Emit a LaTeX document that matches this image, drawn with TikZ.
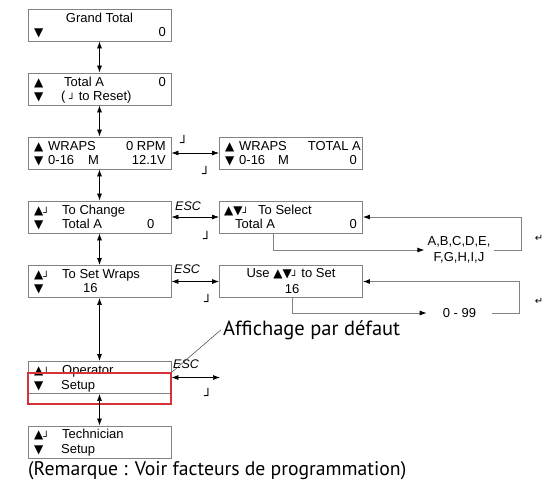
\documentclass[tikz,border=0pt]{standalone}
\usepackage{fontspec}
\setmainfont{Liberation Sans}
\newfontfamily\symf{DejaVu Sans}
\newfontfamily\myr{PT Sans}
\usetikzlibrary{arrows.meta}
\definecolor{redbox}{RGB}{215,50,55}
\definecolor{lcdgray}{RGB}{130,130,130}
\newcommand\tup{{\symf\fontsize{12}{12}\selectfont ▲}}
\newcommand\tdn{{\symf\fontsize{12}{12}\selectfont ▼}}
\newcommand\entr{{\symf\fontsize{10}{12}\selectfont\raisebox{-2.5pt}{┘}}}
\newcommand\bigent{{\symf\fontsize{13}{12}\selectfont ┘}}
\tikzset{
  lcd/.style={draw=lcdgray, line width=0.9pt, minimum width=143pt, minimum height=32pt, inner sep=0pt},
  t/.style={inner sep=0pt, anchor=base west, font=\fontsize{13}{15}\selectfont},
  te/.style={t, anchor=base east},
  tc/.style={t, anchor=base},
  esc/.style={t, font=\itshape\fontsize{12.5}{14}\selectfont},
  dbl/.style={{Latex[length=7pt,width=5pt]}-{Latex[length=7pt,width=5pt]}, line width=0.7pt},
  arr/.style={-{Latex[length=7pt,width=5pt,black]}, line width=0.8pt, draw=lcdgray},
  entmark/.style={inner sep=0pt, anchor=base}
}
\begin{document}
\begin{tikzpicture}[x=1pt,y=-1pt]
\useasboundingbox (0,0) rectangle (553,480);
% boxes
\node[lcd] (gt) at (99.5,25) {};
\node[lcd] (ta) at (99.5,89) {};
\node[lcd] (wr) at (99.5,153) {};
\node[lcd] (tc) at (99.5,217) {};
\node[lcd] (sw) at (99.5,281.5) {};
\node[lcd] (op) at (99.5,377.5) {};
\node[lcd] (te) at (99.5,442) {};
\node[lcd] (wt) at (291,153) {};
\node[lcd] (ts) at (291,217) {};
\node[lcd] (us) at (291,281.5) {};
% Grand total
\node[tc] (gt1) at (99.5,22) {Grand Total};
\node[t] (gt2) at (34,36) {\tdn};
\node[te] (gt3) at (166,36) {0};
% Total A
\node[t] (ta1) at (34,86) {\tup};
\node[t] (ta2) at (64,86) {Total A};
\node[te] (ta3) at (166,86) {0};
\node[t] (ta4) at (34,100) {\tdn};
\node[t] (ta5) at (61,100) {( \entr\ to Reset)};
% WRAPS
\node[t] (wr1) at (34,150) {\tup};
\node[t] (wr2) at (48,150) {WRAPS};
\node[te] (wr3) at (166,150) {0 RPM};
\node[t] (wr4) at (34,164) {\tdn};
\node[t] (wr5) at (48,164) {0-16};
\node[t] (wr6) at (88,164) {M};
\node[te] (wr7) at (166,164) {12.1V};
% WRAPS TOTAL A
\node[t] (wt1) at (225,150) {\tup};
\node[t] (wt2) at (239,150) {WRAPS};
\node[te] (wt3) at (361,150) {TOTAL A};
\node[t] (wt4) at (225,164) {\tdn};
\node[t] (wt5) at (239,164) {0-16};
\node[t] (wt6) at (278,164) {M};
\node[te] (wt7) at (357,164) {0};
% To Change
\node[t] (tc1) at (34,214) {\tup\entr};
\node[t] (tc2) at (62,214) {To Change};
\node[t] (tc3) at (34,228) {\tdn};
\node[t] (tc4) at (62,228) {Total A};
\node[t] (tc5) at (147,228) {0};
% To Select
\node[t] (ts1) at (224,214) {\tup\tdn\entr};
\node[t] (ts2) at (258,214) {To Select};
\node[t] (ts3) at (235,228) {Total A};
\node[te] (ts4) at (357,228) {0};
% To Set Wraps
\node[t] (sw1) at (34,278) {\tup\entr};
\node[t] (sw2) at (62,278) {To Set Wraps};
\node[t] (sw3) at (34,292) {\tdn};
\node[t] (sw4) at (83,292) {16};
% Use to set
\node[tc] (us1) at (291,277) {Use \tup\tdn\entr\ to Set};
\node[tc] (us2) at (292,293) {16};
% Operator
\node[t] (op1) at (34,374) {\tup\entr};
\node[t] (op2) at (62,374) {Operator};
\node[t] (op3) at (34,389) {\tdn};
\node[t] (op4) at (61,389) {Setup};
% Technician
\node[t] (te1) at (34,438) {\tup\entr};
\node[t] (te2) at (62,438) {Technician};
\node[t] (te3) at (34,453) {\tdn};
\node[t] (te4) at (61,453) {Setup};
% red highlight
\node[draw=redbox, line width=1.2pt, minimum width=143pt, minimum height=31pt, inner sep=0pt] (red) at (99.5,388.5) {};
% vertical arrows
\draw[dbl] (gt.south) -- (ta.north);
\draw[dbl] (ta.south) -- (wr.north);
\draw[dbl] (wr.south) -- (tc.north);
\draw[dbl] (tc.south) -- (sw.north);
\draw[dbl] (sw.south) -- (op.north);
\draw[dbl] (op.south) -- (te.north);
% horizontal arrows
\draw[dbl] (wr.east) -- (wt.west);
\draw[dbl] (tc.east) -- (ts.west);
\draw[dbl] (sw.east) -- (us.west);
\coordinate (opR) at (220,377.5);
\draw[dbl] (op.east) -- (opR);
% ESC labels
\node[esc] (esc1) at (175,210) {ESC};
\node[esc] (esc2) at (174,273) {ESC};
\node[esc] (esc3) at (173,368) {ESC};
% enter marks
\node[entmark] (m1) at (184,147.5) {\bigent};
\node[entmark] (m2) at (206,178) {\bigent};
\node[entmark] (m3) at (207,243) {\bigent};
\node[entmark] (m4) at (208,306) {\bigent};
\node[entmark] (m5) at (208,400) {\bigent};
% loops
\node[inner xsep=3pt, inner ysep=0pt, align=center, font=\fontsize{13}{16}\selectfont] (abc) at (459,250) {A,B,C,D,E,\\F,G,H,I,J};
\draw[arr] ([xshift=-18pt]ts.south) |- (abc.west);
\draw[arr] (abc.east) -- ++(28,0) |- (ts.east);
\node[inner xsep=16pt, inner ysep=0pt, font=\fontsize{13}{16}\selectfont] (n099) at (459.5,313) {0 - 99};
\draw[arr] ([xshift=1pt]us.south) |- (n099.west);
\draw[arr] (n099.east) -- ++(27,0) |- (us.east);
\node[entmark, font=\symf\fontsize{10}{10}\selectfont] (r1) at (539,241) {↵};
\node[entmark, font=\symf\fontsize{10}{10}\selectfont] (r2) at (539,304) {↵};
% annotation
\node[anchor=base west, inner sep=2pt, font=\myr\fontsize{20.5}{24}\selectfont] (aff) at (221,335) {Affichage par défaut};
\draw[black!75, line width=0.5pt] (aff.west) -- (red.north east);
\node[anchor=base west, inner sep=0pt, font=\myr\fontsize{19.7}{24}\selectfont] (rem) at (28,475) {(Remarque : Voir facteurs de programmation)};
\end{tikzpicture}
\end{document}
